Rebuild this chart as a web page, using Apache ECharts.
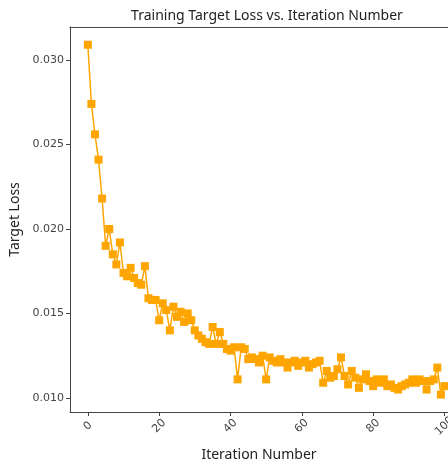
<!DOCTYPE html>
<html><head><meta charset="utf-8">
<script src="https://cdn.jsdelivr.net/npm/echarts@6/dist/echarts.min.js"></script>
<style>html,body{margin:0;padding:0;background:#fff}#c{width:448px;height:464px}</style>
</head><body><div id="c"></div>
<script>
const iterations = Array.from({length: 101}, (_, i) => i);
const targetLoss = [
  0.0309, 0.0274, 0.0256, 0.0241, 0.0218, 0.0190, 0.0200, 0.0185, 0.0179, 0.0192,
  0.0174, 0.0172, 0.0177, 0.0171, 0.0168, 0.0167, 0.0178, 0.0159, 0.0158, 0.0158,
  0.0146, 0.0156, 0.0152, 0.0140, 0.0154, 0.0148, 0.0151, 0.0145, 0.0150, 0.0146,
  0.0140, 0.0137, 0.0135, 0.0133, 0.0132, 0.0142, 0.0132, 0.0139, 0.0132, 0.0129,
  0.0128, 0.0130, 0.0111, 0.0130, 0.0129, 0.0123, 0.0124, 0.0123, 0.0121, 0.0125,
  0.0111, 0.0124, 0.0122, 0.0121, 0.0123, 0.0121, 0.0118, 0.0121, 0.0122, 0.0119,
  0.0121, 0.0122, 0.0118, 0.0120, 0.0121, 0.0122, 0.0109, 0.0116, 0.0112, 0.0113,
  0.0117, 0.0124, 0.0113, 0.0108, 0.0116, 0.0112, 0.0106, 0.0111, 0.0114, 0.0110,
  0.0107, 0.0111, 0.0109, 0.0111, 0.0107, 0.0108, 0.0106, 0.0105, 0.0107, 0.0108,
  0.0109, 0.0111, 0.0109, 0.0111, 0.0110, 0.0105, 0.0110, 0.0111, 0.0118, 0.0102,
  0.0107
];
const xTicks = [0, 20, 40, 60, 80, 100];
const yTicks = [0.010, 0.015, 0.020, 0.025, 0.030];

const chart = echarts.init(document.getElementById('c'), null, {renderer: 'canvas'});
const font = 'DejaVu Sans';
chart.setOption({
  animation: false,
  backgroundColor: '#fff',
  title: {
    text: 'Training Target Loss vs. Iteration Number',
    left: 262, top: 4, textAlign: 'center',
    textStyle: {fontFamily: 'Noto Sans', fontSize: 14, fontWeight: 'normal', color: '#222'}
  },
  grid: {left: 70, top: 27, right: 0, bottom: 52, show: false, containLabel: false, outerBoundsMode: 'none'},
  xAxis: [{
    type: 'value', min: -5, max: 101, interval: 20,
    name: 'Iteration Number', nameLocation: 'middle', nameGap: 36,
    nameTextStyle: {fontFamily: 'Noto Sans', fontSize: 14, color: '#222'},
    axisLine: {show: true, onZero: false, lineStyle: {color: '#444'}},
    axisTick: {show: true, length: 4, lineStyle: {color: '#444'}, customValues: xTicks},
    axisLabel: {rotate: 45, align: 'center', verticalAlign: 'middle', fontFamily: font, fontSize: 11, color: '#444', margin: 14,
      customValues: xTicks, formatter: v => String(v)},
    splitLine: {show: false}
  }, {
    type: 'value', position: 'top', min: -5, max: 101,
    axisLine: {show: true, onZero: false, lineStyle: {color: '#444'}},
    axisTick: {show: false}, axisLabel: {show: false}, splitLine: {show: false}
  }],
  yAxis: {
    type: 'value', min: 0.00917, max: 0.03195,
    name: 'Target Loss', nameLocation: 'middle', nameGap: 42,
    nameTextStyle: {fontFamily: 'Noto Sans', fontSize: 14, color: '#222'},
    axisLine: {show: true, onZero: false, lineStyle: {color: '#444'}},
    axisTick: {show: true, length: 4, lineStyle: {color: '#444'}, customValues: yTicks},
    axisLabel: {fontFamily: font, fontSize: 11, color: '#444', margin: 6,
      customValues: yTicks, formatter: v => v.toFixed(3)},
    splitLine: {show: false}
  },
  series: [{
    type: 'line',
    data: iterations.map((x, i) => [x, targetLoss[i]]),
    symbol: 'rect', symbolSize: 8,
    itemStyle: {color: '#FFA500'},
    lineStyle: {color: '#FFA500', width: 1.5}
  }]
});
</script></body></html>
